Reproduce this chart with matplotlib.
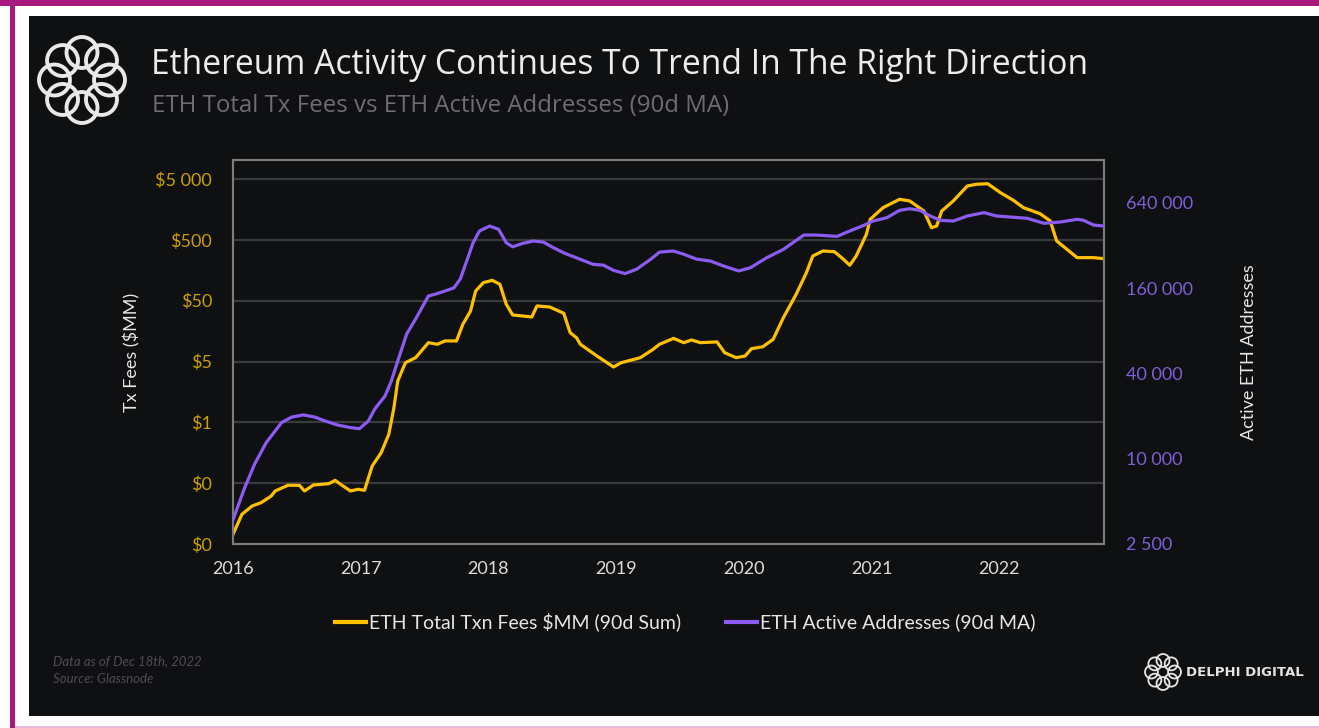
import matplotlib
matplotlib.use("Agg")
import matplotlib.pyplot as plt
from matplotlib.patches import Rectangle, Circle
from matplotlib.lines import Line2D
import numpy as np

plt.rcParams['font.family'] = ['Lato', 'DejaVu Sans']

# ---------------- data ----------------
fee_years = [2016.00, 2016.07, 2016.15, 2016.22, 2016.30, 2016.33, 2016.43, 2016.52, 2016.56, 2016.63,
             2016.75, 2016.80, 2016.85, 2016.92, 2016.98, 2017.03, 2017.09, 2017.16, 2017.22, 2017.26,
             2017.29, 2017.35, 2017.43, 2017.53, 2017.60, 2017.66, 2017.75, 2017.80, 2017.86, 2017.90,
             2017.96, 2018.03, 2018.09, 2018.14, 2018.19, 2018.34, 2018.38, 2018.48, 2018.59, 2018.64,
             2018.69, 2018.72, 2018.85, 2018.98, 2019.04, 2019.19, 2019.29, 2019.34, 2019.45, 2019.53,
             2019.59, 2019.66, 2019.79, 2019.85, 2019.94, 2020.01, 2020.06, 2020.15, 2020.23, 2020.31,
             2020.41, 2020.49, 2020.54, 2020.62, 2020.71, 2020.78, 2020.83, 2020.88, 2020.96, 2020.99,
             2021.09, 2021.22, 2021.30, 2021.41, 2021.47, 2021.51, 2021.55, 2021.64, 2021.75, 2021.82,
             2021.91, 2022.01, 2022.11, 2022.19, 2022.32, 2022.40, 2022.45, 2022.53, 2022.61, 2022.74,
             2022.82]
fee_values = [0.0072, 0.0154, 0.0211, 0.0239, 0.0308, 0.0372, 0.0461, 0.0461, 0.0372, 0.0467,
              0.049, 0.0557, 0.0467, 0.0372, 0.0397, 0.0382, 0.0958, 0.158, 0.318, 0.87,
              2.39, 4.78, 5.78, 10.2, 9.6, 10.9, 10.9, 20.5, 33.8, 72,
              98.8, 108, 93, 43.6, 29.1, 27, 40.9, 39.4, 31, 14.9,
              12.3, 9.6, 6.16, 4.06, 4.78, 5.78, 7.94, 9.6, 12.0, 10.2,
              11.3, 10.2, 10.5, 6.98, 5.78, 6.16, 8.12, 8.76, 11.6, 26.3,
              63.7, 144, 271, 328, 319, 240, 191, 271, 617, 1089,
              1690, 2322, 2177, 1491, 792, 845, 1491, 2177, 3840, 4100,
              4190, 2980, 2240, 1690, 1346, 1021, 479, 350, 255, 255,
              245]

addr_years = [2016.00, 2016.09, 2016.17, 2016.26, 2016.38, 2016.46, 2016.55, 2016.64, 2016.72, 2016.82,
              2016.92, 2016.99, 2017.06, 2017.11, 2017.19, 2017.24, 2017.29, 2017.36, 2017.43, 2017.53,
              2017.58, 2017.66, 2017.73, 2017.78, 2017.83, 2017.88, 2017.93, 2018.01, 2018.08, 2018.14,
              2018.19, 2018.27, 2018.35, 2018.43, 2018.51, 2018.60, 2018.72, 2018.82, 2018.90, 2018.98,
              2019.07, 2019.16, 2019.27, 2019.34, 2019.45, 2019.53, 2019.63, 2019.74, 2019.84, 2019.96,
              2020.05, 2020.18, 2020.31, 2020.47, 2020.57, 2020.73, 2020.83, 2020.94, 2021.01, 2021.12,
              2021.22, 2021.30, 2021.38, 2021.46, 2021.54, 2021.64, 2021.75, 2021.88, 2021.98, 2022.08,
              2022.22, 2022.35, 2022.48, 2022.61, 2022.66, 2022.74, 2022.82]
addr_values = [3700, 6200, 9200, 13000, 18000, 19700, 20400, 19700, 18500, 17300,
               16600, 16300, 18500, 22450, 27700, 35400, 49000, 76000, 97000, 141000,
               145000, 153000, 161000, 186000, 249000, 335000, 406000, 440000, 417000, 335000,
               314000, 332000, 345000, 339000, 309000, 282000, 256000, 236000, 233000, 214000,
               203000, 218000, 256000, 288000, 293000, 278000, 257000, 249000, 230000, 212000,
               223000, 263000, 301000, 380000, 380000, 372000, 406000, 445000, 477000, 504000,
               568000, 583000, 568000, 518000, 483000, 477000, 518000, 547000, 518000, 510000,
               499000, 460000, 470000, 491000, 483000, 447000, 440000]

year_ticks = [2016, 2017, 2018, 2019, 2020, 2021, 2022]
fee_ticks = [0.005, 0.05, 0.5, 5, 50, 500, 5000]
fee_tick_labels = ["$0", "$0", "$1", "$5", "$50", "$500", "$5 000"]
addr_ticks = [2500, 10000, 40000, 160000, 640000]
addr_tick_labels = ["2 500", "10 000", "40 000", "160 000", "640 000"]

title = "Ethereum Activity Continues To Trend In The Right Direction"
subtitle = "ETH Total Tx Fees vs ETH Active Addresses (90d MA)"
fee_label = "ETH Total Txn Fees $MM (90d Sum)"
addr_label = "ETH Active Addresses (90d MA)"

# ---------------- style ----------------
W, H = 1319, 728
BG = "#0f1012"
ORANGE = "#ffc000"
PURPLE = "#8c5cf2"
ORANGE_TXT = "#c9a000"
PURPLE_TXT = "#7f5fd8"
MAGENTA = "#a8197f"

fig = plt.figure(figsize=(W / 100, H / 100), dpi=100, facecolor="white")

def fx(px):
    return px / W

def fy(py):
    return 1 - py / H

# frame decoration (drawn beneath everything)
fig.patches.append(Rectangle((0, fy(6)), 1, 6 / H, transform=fig.transFigure,
                             facecolor=MAGENTA, edgecolor="none", zorder=-5))
fig.patches.append(Rectangle((fx(10), 0), 5 / W, 1, transform=fig.transFigure,
                             facecolor=MAGENTA, edgecolor="none", zorder=-5))
fig.patches.append(Rectangle((fx(15), 0), 1, 2 / H, transform=fig.transFigure,
                             facecolor="#e8b8d8", edgecolor="none", zorder=-5))
fig.patches.append(Rectangle((fx(29), fy(716)), (W - 29) / W, 700 / H, transform=fig.transFigure,
                             facecolor=BG, edgecolor="none", zorder=-5))

# main axes
ax = fig.add_axes([fx(233), fy(544), (1104 - 233) / W, (544 - 160) / H])
ax.set_facecolor(BG)
ax.set_yscale("log")
ax.set_ylim(0.005, 0.005 * 10 ** (384 / 60.83))
ax.set_xlim(2016, 2016 + 871 / 127.7)
ax.set_yticks(fee_ticks)
ax.set_yticklabels(fee_tick_labels)
ax.yaxis.set_minor_locator(matplotlib.ticker.NullLocator())
ax.set_xticks(year_ticks)
ax.set_xticklabels([str(y) for y in year_ticks])
ax.tick_params(axis="y", length=0, pad=15, labelsize=13, labelcolor=ORANGE_TXT)
ax.tick_params(axis="x", length=0, pad=12, labelsize=13, labelcolor="#dcdcdc")
ax.grid(axis="y", color="#3a3b3d", linewidth=1.6)
ax.set_axisbelow(True)
for s in ax.spines.values():
    s.set_color("#7c7c7c")
    s.set_linewidth(1.5)
ax.plot(fee_years, fee_values, color=ORANGE, linewidth=2.3, solid_joinstyle="round", zorder=3)
ax.set_ylabel("Tx Fees ($MM)", color="#e6e6e6", fontsize=13, labelpad=11)

ax2 = ax.twinx()
ax2.set_yscale("log")
ax2.set_ylim(2500, 2500 * 4 ** (384 / 85.25))
ax2.set_yticks(addr_ticks)
ax2.set_yticklabels(addr_tick_labels)
ax2.yaxis.set_minor_locator(matplotlib.ticker.NullLocator())
ax2.tick_params(axis="y", length=0, pad=16, labelsize=13, labelcolor=PURPLE_TXT)
for s in ax2.spines.values():
    s.set_color("#7c7c7c")
    s.set_linewidth(1.5)
ax2.plot(addr_years, addr_values, color=PURPLE, linewidth=2.3, solid_joinstyle="round", zorder=3)
ax2.set_ylabel("Active ETH Addresses", color="#e6e6e6", fontsize=13, labelpad=34)

# legend
handles = [Line2D([], [], color=ORANGE, linewidth=3),
           Line2D([], [], color=PURPLE, linewidth=3)]
leg = fig.legend(handles, [fee_label, addr_label], loc="center", ncol=2,
                 bbox_to_anchor=(fx(685), fy(622)), frameon=False, fontsize=14,
                 handlelength=1.6, handletextpad=0.15, columnspacing=2.3)
for t in leg.get_texts():
    t.set_color("#e6e6e6")

# titles
fig.text(fx(151), fy(65), title, color="#ececec", fontsize=24.2, va="center", ha="left",
         family=["Open Sans", "DejaVu Sans"])
fig.text(fx(152), fy(106), subtitle, color="#6e6e70", fontsize=17.3, va="center", ha="left",
         family=["Open Sans", "DejaVu Sans"])

# notes
fig.text(fx(53), fy(661), "Data as of Dec 18th, 2022", color="#4e4e50", fontsize=9.5,
         style="italic", va="center", ha="left")
fig.text(fx(53), fy(679), "Source: Glassnode", color="#4e4e50", fontsize=9.5,
         style="italic", va="center", ha="left")

# logos
def draw_logo(cx, cy, r, lw):
    la = fig.add_axes([fx(cx - r * 1.1), fy(cy + r * 1.1), 2.2 * r / W, 2.2 * r / H])
    la.set_xlim(-1.1, 1.1)
    la.set_ylim(-1.1, 1.1)
    la.axis("off")
    la.patch.set_alpha(0)
    n = 8
    for k in range(n):
        a = np.pi / 2 + 2 * np.pi * k / n
        la.add_patch(Circle((0.64 * np.cos(a), 0.64 * np.sin(a)), 0.36, fill=False,
                            edgecolor="#e8e8e8", linewidth=lw))

draw_logo(82, 80, 43, 2.8)
draw_logo(1163, 672, 18, 1.3)
fig.text(fx(1186), fy(672), "DELPHI DIGITAL", color="#e4e4e4", fontsize=9.5,
         fontweight="bold", va="center", ha="left", family=["DejaVu Sans"])

fig.savefig("out.png", dpi=100, facecolor=fig.get_facecolor())
